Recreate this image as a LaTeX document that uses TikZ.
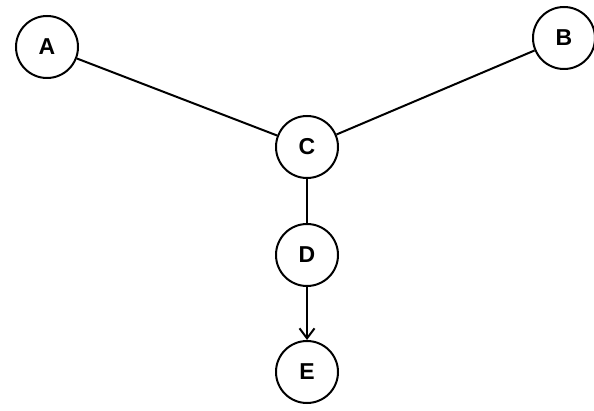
\documentclass[tikz,border=0pt]{standalone}
\usepackage{fontspec}
\setsansfont{Liberation Sans}
\usetikzlibrary{arrows.meta}
\begin{document}
\begin{tikzpicture}[x=1pt,y=-1pt,
    vertex/.style={circle,draw,line width=2pt,minimum size=62pt,inner sep=0pt,
        font=\sffamily\bfseries\fontsize{23}{26}\selectfont}]
                \useasboundingbox (0,0) rectangle (594,411);
                \foreach \n/\x/\y in {A/47/47,B/564/38,C/307/147,D/307/255,E/307/372}{
                    \node[vertex] (\n) at (\x,\y) {\n};
                }
                \foreach \n in {A,B,D}{
                    \draw[line width=2pt] (\n)--(C);
                }
                \draw[-{Straight Barb[length=10pt,width=15pt]},line width=2pt] (D)--(E);
            \end{tikzpicture}
\end{document}
